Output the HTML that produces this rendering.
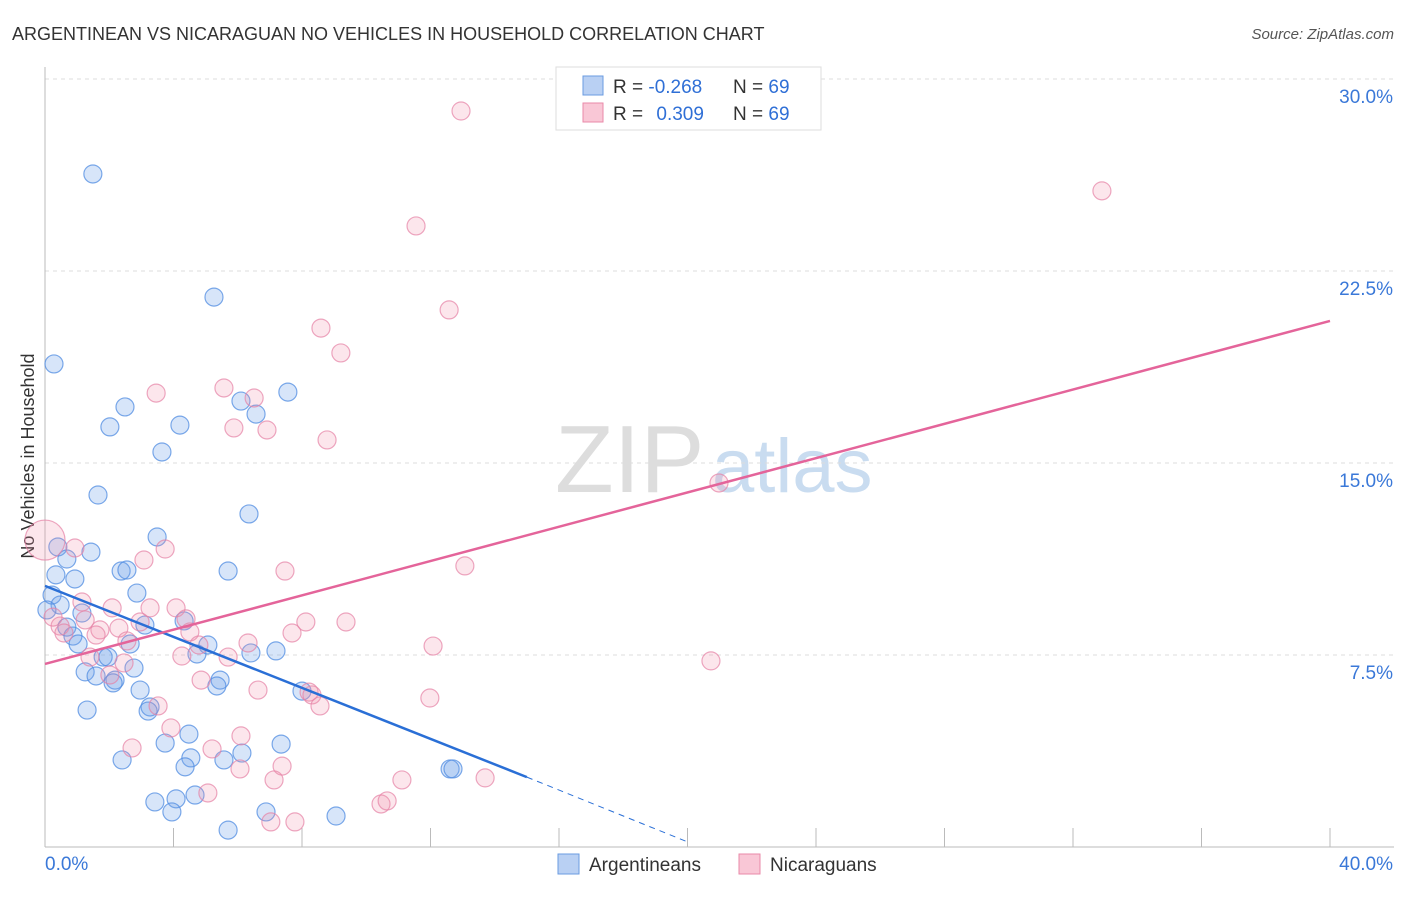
<!DOCTYPE html>
<html><head><meta charset="utf-8"><style>
body{margin:0;background:#fff;font-family:"Liberation Sans",sans-serif}
svg text{font-family:"Liberation Sans",sans-serif}
</style></head><body>
<svg id="chart" width="1406" height="892">
<text x="12" y="40" font-size="18" fill="#333">ARGENTINEAN VS NICARAGUAN NO VEHICLES IN HOUSEHOLD CORRELATION CHART</text>
<text x="1394" y="39" font-size="15" fill="#555" font-style="italic" text-anchor="end">Source: ZipAtlas.com</text>
<text transform="translate(34,456) rotate(-90)" font-size="18" fill="#333" text-anchor="middle">No Vehicles in Household</text>
<g><text x="555" y="492" font-size="96" fill="#ddd" font-family="Liberation Serif">ZIP</text><text x="712" y="492" font-size="76" fill="#c9dcf0">atlas</text></g>
<g id="grid"></g><g id="axes"></g><g id="pts"></g><g id="lines"></g>
<g>
<rect x="556" y="67" width="265" height="63" fill="#fff" stroke="#ddd"/>
<rect x="583" y="76" width="20" height="19" fill="#b9d0f3" stroke="#6a9be0"/>
<rect x="583" y="103" width="20" height="19" fill="#f9c7d6" stroke="#e98aa8"/>
<text x="613" y="93" font-size="19" fill="#333">R = <tspan fill="#2f6fd6">-0.268</tspan></text>
<text x="733" y="93" font-size="19" fill="#333">N = <tspan fill="#2f6fd6">69</tspan></text>
<text x="613" y="120" font-size="19" fill="#333">R = <tspan fill="#2f6fd6" dx="8">0.309</tspan></text>
<text x="733" y="120" font-size="19" fill="#333">N = <tspan fill="#2f6fd6">69</tspan></text>
</g>
<g>
<rect x="558" y="854" width="21" height="20" fill="#b9d0f3" stroke="#6a9be0"/>
<text x="589" y="871" font-size="19" fill="#333">Argentineans</text>
<rect x="739" y="854" width="21" height="20" fill="#f9c7d6" stroke="#e98aa8"/>
<text x="770" y="871" font-size="19" fill="#333">Nicaraguans</text>
</g>
</svg>
<script>
const yTicks=[7.5,15,22.5,30];
const yTickLabels=["7.5%","15.0%","22.5%","30.0%"];
const xTickLabels=["0.0%","40.0%"];
const blueX=[1.49,0.28,5.26,2.49,2.02,4.20,6.10,6.57,7.56,3.64,1.65,6.35,3.49,0.40,1.43,0.68,0.34,0.93,2.37,2.55,5.70,2.86,0.22,0.47,1.15,0.06,3.11,4.33,0.68,0.87,1.03,2.65,1.81,1.96,4.73,5.07,6.41,7.19,2.77,1.25,1.59,2.18,2.12,5.45,5.35,2.96,8.00,1.31,3.27,3.21,3.74,4.48,4.54,4.36,6.13,5.57,7.35,2.40,3.42,4.08,3.95,4.67,6.88,5.70,9.06,12.61,12.70];
const blueY=[26.29,18.87,21.48,17.19,16.41,16.48,17.42,16.91,17.77,15.43,13.75,13.01,12.11,11.72,11.52,11.25,10.63,10.47,10.78,10.82,10.78,9.92,9.84,9.45,9.14,9.26,8.67,8.83,8.59,8.24,7.93,7.93,7.42,7.42,7.54,7.89,7.58,7.66,6.99,6.84,6.68,6.52,6.41,6.52,6.29,6.13,6.09,5.35,5.47,5.31,4.06,4.41,3.48,3.13,3.67,3.40,4.02,3.40,1.76,1.88,1.37,2.03,1.37,0.66,1.21,3.05,3.05];
const pinkX=[12.95,32.90,11.55,12.58,8.59,9.21,3.46,5.57,6.51,5.88,6.91,8.78,20.98,0,0.93,3.74,3.08,7.47,13.07,1.15,2.09,3.27,4.08,1.25,8.12,9.37,0.47,1.71,2.30,2.96,4.39,4.51,1.59,0.59,7.69,2.55,4.79,6.32,12.08,4.26,5.70,1.40,2.46,20.73,6.63,4.86,8.22,8.31,8.56,11.98,3.52,3.92,2.71,5.20,6.10,6.07,7.38,7.13,11.11,13.70,5.07,10.46,10.65,7.03,7.78,0.25,2.02];
const pinkY=[28.75,25.63,24.26,20.98,20.27,19.30,17.73,17.93,17.54,16.37,16.29,15.90,14.22,11.99,11.68,11.64,11.21,10.78,10.98,9.57,9.34,9.34,9.34,8.87,8.79,8.79,8.63,8.48,8.55,8.79,8.91,8.40,8.28,8.36,8.36,8.05,7.89,7.97,7.85,7.46,7.42,7.42,7.19,7.27,6.13,6.52,6.05,5.94,5.51,5.82,5.51,4.65,3.87,3.83,4.34,3.05,3.16,2.62,2.62,2.70,2.11,1.68,1.80,0.98,0.98,8.98,6.72];
const blueTrendX=[0,15,20];
const blueTrendY=[10.2,2.73,0.2];
const pinkTrendX=[0,40];
const pinkTrendY=[7.15,20.55];
const NS="http://www.w3.org/2000/svg";
const sx=v=>45+v*32.125, sy=v=>847-v*25.6;
function mk(tag,attrs,parent){const e=document.createElementNS(NS,tag);for(const k in attrs)e.setAttribute(k,attrs[k]);document.getElementById(parent).appendChild(e);return e;}
yTicks.forEach((t,i)=>{
 const l=mk('line',{x1:45,x2:1394,y1:sy(t),y2:sy(t),stroke:'#ddd','stroke-dasharray':'4,4'},'grid');
 
 
 const tx=mk('text',{x:1393,y:sy(t)+24,'font-size':19,fill:'#3a78d8','text-anchor':'end'},'grid');tx.textContent=yTickLabels[i];
 
 
});
const ax=mk('line',{x1:45,x2:45,y1:67,y2:847,stroke:'#bbb'},'axes');


const bx=mk('line',{x1:45,x2:1394,y1:847,y2:847,stroke:'#bbb'},'axes');


for(let i=0;i<=10;i++){const t=mk('line',{x1:sx(i*4),x2:sx(i*4),y1:828,y2:847,stroke:'#bbb'},'axes');
 
 }
[[45,'start'],[1393,'end']].forEach((d,i)=>{const t=mk('text',{x:d[0],y:870,'font-size':19,fill:'#3a78d8','text-anchor':d[1]},'axes');t.textContent=xTickLabels[i];
 
 });
blueX.forEach((x,i)=>{const c=mk('circle',{cx:sx(x),cy:sy(blueY[i]),r:9,fill:'rgba(110,160,235,0.28)',stroke:'rgba(80,140,225,0.75)','stroke-width':1.2},'pts');
 
 });
pinkX.forEach((x,i)=>{const c=mk('circle',{cx:sx(x),cy:sy(pinkY[i]),r:(i===13?20:9),fill:'rgba(240,140,170,0.22)',stroke:'rgba(230,130,165,0.7)','stroke-width':1.2},'pts');
 
 });
const b1=mk('line',{x1:sx(blueTrendX[0]),y1:sy(blueTrendY[0]),x2:sx(blueTrendX[1]),y2:sy(blueTrendY[1]),stroke:'#2a6fd6','stroke-width':2.5},'lines');


const b2=mk('line',{x1:sx(blueTrendX[1]),y1:sy(blueTrendY[1]),x2:sx(blueTrendX[2]),y2:sy(blueTrendY[2]),stroke:'#2a6fd6','stroke-width':1,'stroke-dasharray':'6,5'},'lines');


const p1=mk('line',{x1:sx(pinkTrendX[0]),y1:sy(pinkTrendY[0]),x2:sx(pinkTrendX[1]),y2:sy(pinkTrendY[1]),stroke:'#e4649a','stroke-width':2.5},'lines');


</script>
</body></html>
